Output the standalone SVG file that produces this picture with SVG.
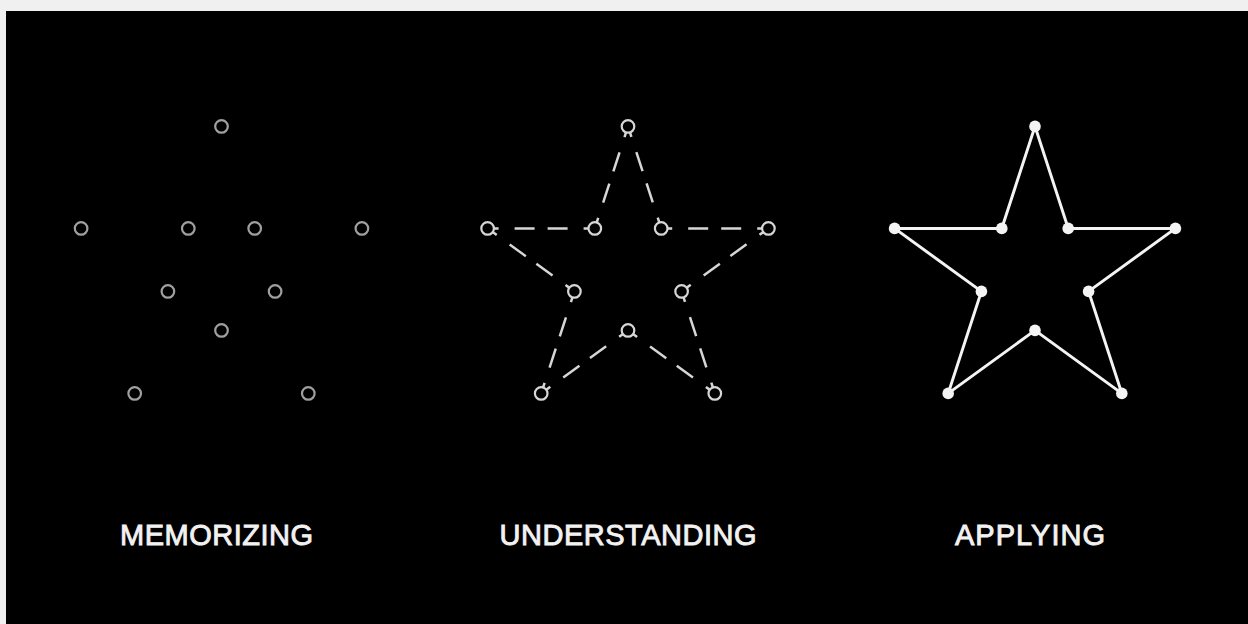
<svg xmlns="http://www.w3.org/2000/svg" width="1248" height="624" viewBox="0 0 1248 624">
  <style>
    .ring-m { fill: none; stroke: #a0a0a0; stroke-width: 2.2; }
    .ring-u { fill: #000; stroke: #d6d6d6; stroke-width: 2.2; }
    .dash { fill: none; stroke: #d6d6d6; stroke-width: 2.5; stroke-linecap: butt; stroke-dasharray: 0 6 5 16 20 13 20 16 5 60; }
    .solid { fill: none; stroke: #f4f4f4; stroke-width: 3; stroke-linejoin: round; }
    .dot { fill: #f4f4f4; }
    .label { font-family: "Liberation Sans", Arial, sans-serif; font-size: 29px; fill: #f2f2f2; stroke: #f2f2f2; stroke-width: 0.9; text-anchor: middle; }
  </style>
  <rect x="0" y="0" width="1248" height="624" fill="#f0f0f0"/>
  <rect x="6" y="11" width="1242" height="613" fill="#000"/>

  <!-- Memorizing: scattered points -->
  <g id="memorizing" transform="translate(221.5,274)">
    <circle class="ring-m" cx="0" cy="-147.6" r="6.3"/>
    <circle class="ring-m" cx="140.4" cy="-45.6" r="6.3"/>
    <circle class="ring-m" cx="86.8" cy="119.4" r="6.3"/>
    <circle class="ring-m" cx="-86.8" cy="119.4" r="6.3"/>
    <circle class="ring-m" cx="-140.4" cy="-45.6" r="6.3"/>
    <circle class="ring-m" cx="33.2" cy="-45.6" r="6.3"/>
    <circle class="ring-m" cx="53.6" cy="17.4" r="6.3"/>
    <circle class="ring-m" cx="0" cy="56.4" r="6.3"/>
    <circle class="ring-m" cx="-53.6" cy="17.4" r="6.3"/>
    <circle class="ring-m" cx="-33.2" cy="-45.6" r="6.3"/>
  </g>

  <!-- Understanding: dashed star connectors -->
  <g id="connectors-understanding" transform="translate(628,274)">
    <path class="dash" d="M0 -147.6 L33.2 -45.6"/>
    <path class="dash" d="M33.2 -45.6 L140.4 -45.6"/>
    <path class="dash" d="M140.4 -45.6 L53.6 17.4"/>
    <path class="dash" d="M53.6 17.4 L86.8 119.4"/>
    <path class="dash" d="M86.8 119.4 L0 56.4"/>
    <path class="dash" d="M0 56.4 L-86.8 119.4"/>
    <path class="dash" d="M-86.8 119.4 L-53.6 17.4"/>
    <path class="dash" d="M-53.6 17.4 L-140.4 -45.6"/>
    <path class="dash" d="M-140.4 -45.6 L-33.2 -45.6"/>
    <path class="dash" d="M-33.2 -45.6 L0 -147.6"/>
  </g>
  <g id="understanding" transform="translate(628,274)">
    <circle class="ring-u" cx="0" cy="-147.6" r="6.3"/>
    <circle class="ring-u" cx="140.4" cy="-45.6" r="6.3"/>
    <circle class="ring-u" cx="86.8" cy="119.4" r="6.3"/>
    <circle class="ring-u" cx="-86.8" cy="119.4" r="6.3"/>
    <circle class="ring-u" cx="-140.4" cy="-45.6" r="6.3"/>
    <circle class="ring-u" cx="33.2" cy="-45.6" r="6.3"/>
    <circle class="ring-u" cx="53.6" cy="17.4" r="6.3"/>
    <circle class="ring-u" cx="0" cy="56.4" r="6.3"/>
    <circle class="ring-u" cx="-53.6" cy="17.4" r="6.3"/>
    <circle class="ring-u" cx="-33.2" cy="-45.6" r="6.3"/>
  </g>

  <!-- Applying: solid star -->
  <g id="connectors-applying" transform="translate(1035,274)">
    <path class="solid" d="M0 -147.6 L33.2 -45.6 L140.4 -45.6 L53.6 17.4 L86.8 119.4 L0 56.4 L-86.8 119.4 L-53.6 17.4 L-140.4 -45.6 L-33.2 -45.6 Z"/>
  </g>
  <g id="applying" transform="translate(1035,274)">
    <circle class="dot" cx="0" cy="-147.6" r="5.8"/>
    <circle class="dot" cx="140.4" cy="-45.6" r="5.8"/>
    <circle class="dot" cx="86.8" cy="119.4" r="5.8"/>
    <circle class="dot" cx="-86.8" cy="119.4" r="5.8"/>
    <circle class="dot" cx="-140.4" cy="-45.6" r="5.8"/>
    <circle class="dot" cx="33.2" cy="-45.6" r="5.8"/>
    <circle class="dot" cx="53.6" cy="17.4" r="5.8"/>
    <circle class="dot" cx="0" cy="56.4" r="5.8"/>
    <circle class="dot" cx="-53.6" cy="17.4" r="5.8"/>
    <circle class="dot" cx="-33.2" cy="-45.6" r="5.8"/>
  </g>

  <g id="labels">
    <text class="label" x="216.5" y="544.5" textLength="193" lengthAdjust="spacing">MEMORIZING</text>
    <text class="label" x="628" y="544.5" textLength="257" lengthAdjust="spacing">UNDERSTANDING</text>
    <text class="label" x="1030" y="544.5" textLength="150" lengthAdjust="spacing">APPLYING</text>
  </g>
</svg>
